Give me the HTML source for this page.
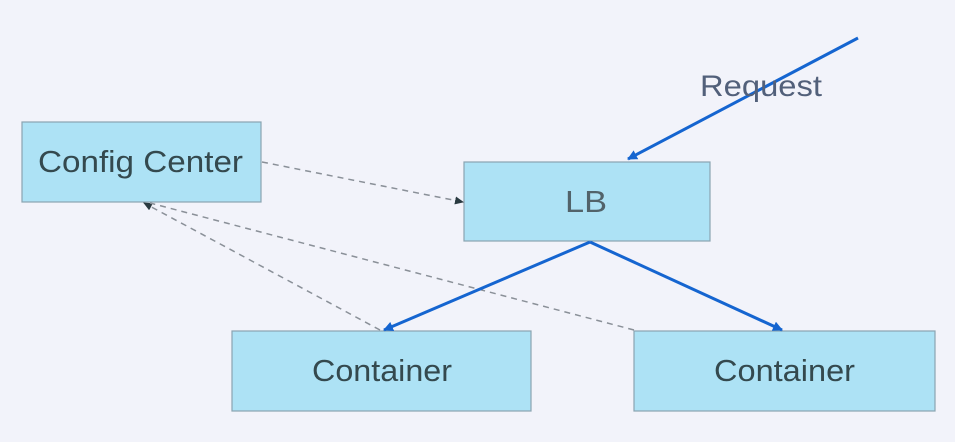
<!DOCTYPE html>
<html><head><meta charset="utf-8"><style>
html,body{margin:0;padding:0;background:#f2f3fa;}
svg{display:block}
text{font-family:"Liberation Sans",sans-serif;}
</style></head><body>
<svg width="955" height="442" viewBox="0 0 955 442">
<defs>
<marker id="b" markerWidth="10" markerHeight="10" refX="9" refY="5" orient="auto" markerUnits="userSpaceOnUse"><path d="M0,0 L10,5 L0,10 z" fill="#1565d0"/></marker>
<marker id="d" markerWidth="9" markerHeight="8" refX="8" refY="4" orient="auto" markerUnits="userSpaceOnUse"><path d="M0,0 L9,4 L0,8 z" fill="#2a3a40"/></marker>
</defs>
<rect width="955" height="442" fill="#f2f3fa"/>
<g fill="#ade2f5" stroke="#8aa4b0" stroke-width="1.2">
<rect x="22" y="122" width="239" height="80"/>
<rect x="464" y="162" width="246" height="79"/>
<rect x="232" y="331" width="299" height="80"/>
<rect x="634" y="331" width="301" height="80"/>
</g>
<g stroke="#8a9098" stroke-width="1.5" stroke-dasharray="6,5" fill="none">
<line x1="262" y1="162" x2="463" y2="202" marker-end="url(#d)"/>
<line x1="380" y1="330" x2="144" y2="203" marker-end="url(#d)"/>
<line x1="634" y1="330" x2="150" y2="203"/>
</g>
<g stroke="#1565d0" stroke-width="3" fill="none">
<line x1="858" y1="38" x2="628" y2="159" marker-end="url(#b)"/>
<line x1="590" y1="242" x2="384" y2="330" marker-end="url(#b)"/>
<line x1="590" y1="242" x2="782" y2="330" marker-end="url(#b)"/>
</g>
<g fill="#34494e" font-size="31" font-weight="300">
<text x="38" y="172" textLength="205" lengthAdjust="spacingAndGlyphs">Config Center</text>
<text x="565" y="212" textLength="42" lengthAdjust="spacingAndGlyphs" fill="#52636a">LB</text>
<text x="312" y="381" textLength="140" lengthAdjust="spacingAndGlyphs">Container</text>
<text x="714" y="381" textLength="141" lengthAdjust="spacingAndGlyphs">Container</text>
</g>
<text x="700" y="96" font-size="30" fill="#52607a" textLength="122" lengthAdjust="spacingAndGlyphs">Request</text>
</svg>
</body></html>
